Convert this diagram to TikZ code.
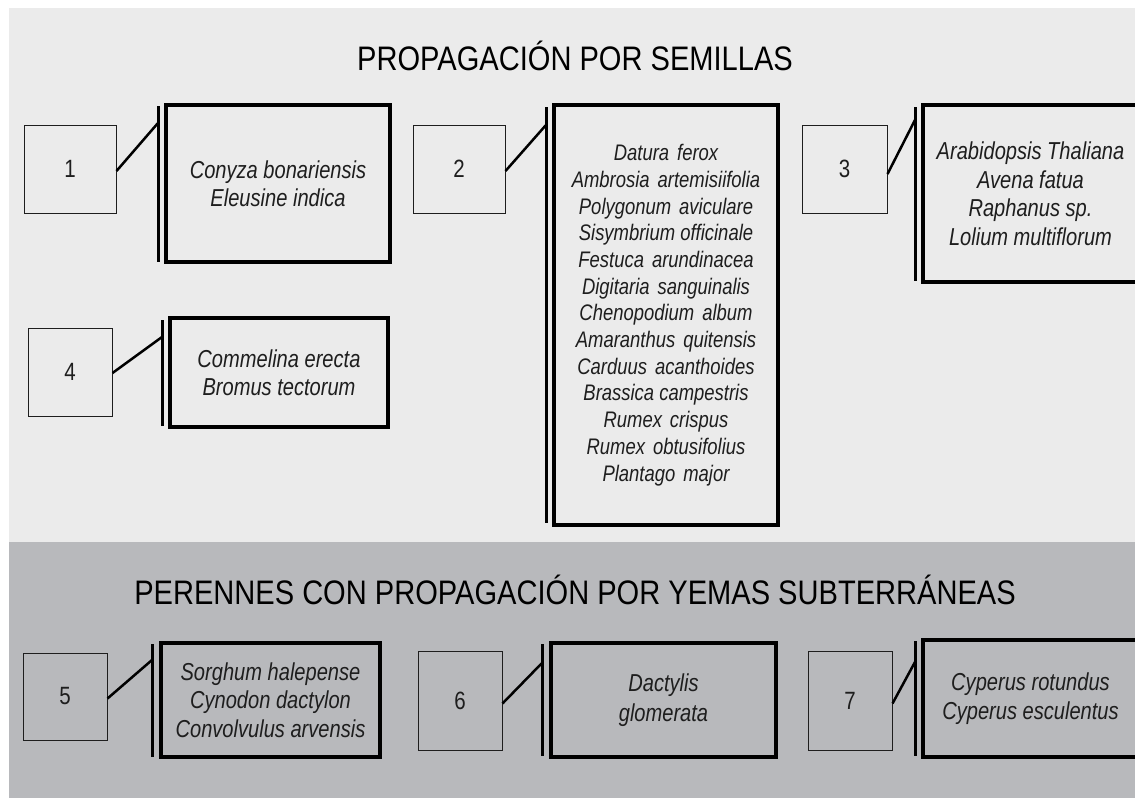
\documentclass[tikz,border=0pt]{standalone}
\usepackage{fontspec}
\setmainfont{Liberation Sans}[FakeStretch=0.855]
\newfontfamily\itemfont{Liberation Sans}[FakeStretch=0.82]
\definecolor{topbg}{RGB}{235,235,235}
\definecolor{botbg}{RGB}{184,185,188}
\definecolor{ink}{RGB}{30,30,30}
\newcommand\wsp{\hspace{8pt}}
\tikzset{
  numbox/.style={draw=ink, line width=1pt, inner sep=0pt, font=\itemfont\fontsize{25}{28}\selectfont, text=ink},
  listbox/.style={draw=black, line width=3.5pt, inner sep=0pt, align=center, font=\itemfont\fontsize{24.5}{28.5}\selectfont\itshape, text=ink},
  barline/.style={line width=3pt, draw=black},
  link/.style={line width=2.5pt, draw=black},
  titletext/.style={font=\fontsize{34}{36}\selectfont, text=black, inner sep=0pt}
}
\begin{document}
\begin{tikzpicture}[x=1pt,y=-1pt]
\useasboundingbox (0,0) rectangle (1135,798);
\fill[topbg] (9,8) rectangle (1135,542);
\fill[botbg] (9,542) rectangle (1135,798);

\node[titletext] (t1) at (575,56) {PROPAGACIÓN POR SEMILLAS};
\node[titletext] (t2) at (575,590) {PERENNES CON PROPAGACIÓN POR YEMAS SUBTERRÁNEAS};

% 1
\node[numbox, minimum width=92pt, minimum height=88pt] (n1) at (70,169) {1};
\node[listbox, minimum width=224pt, minimum height=157pt] (b1) at (278,183.5) {Conyza bonariensis\\Eleusine indica};
\coordinate (p1) at (158,106); \coordinate (q1) at (158,262); \coordinate (c1) at (158,123);
\draw[barline] (p1) -- (q1);
\draw[link] ([yshift=-2pt]n1.east) -- (c1);

% 2
\node[numbox, minimum width=92pt, minimum height=88pt] (n2) at (459,169) {2};
\node[listbox, minimum width=224pt, minimum height=420pt, font=\itemfont\fontsize{22.5}{26.7}\selectfont\itshape] (b2) at (666,315) {Datura\wsp ferox\\Ambrosia\wsp artemisiifolia\\Polygonum\wsp aviculare\\Sisymbrium officinale\\Festuca\wsp arundinacea\\Digitaria\wsp sanguinalis\\Chenopodium\wsp album\\Amaranthus\wsp quitensis\\Carduus\wsp acanthoides\\Brassica campestris\\Rumex\wsp crispus\\Rumex\wsp obtusifolius\\Plantago\wsp major};
\coordinate (p2) at (546,107); \coordinate (q2) at (546,523); \coordinate (c2) at (546,125);
\draw[barline] (p2) -- (q2);
\draw[link] ([yshift=-2pt]n2.east) -- (c2);

% 3
\node[numbox, minimum width=85pt, minimum height=88pt] (n3) at (844.5,169) {3};
\node[listbox, minimum width=215pt, minimum height=177pt] (b3) at (1030.5,193.5) {Arabidopsis Thaliana\\Avena fatua\\Raphanus sp.\\Lolium multiflorum};
\coordinate (p3) at (915,107); \coordinate (q3) at (915,281); \coordinate (c3) at (915,120);
\draw[barline] (p3) -- (q3);
\draw[link] ([yshift=-5pt]n3.east) -- (c3);

% 4
\node[numbox, minimum width=84pt, minimum height=88pt] (n4) at (70,372) {4};
\node[listbox, minimum width=218pt, minimum height=109pt] (b4) at (279,372.5) {Commelina erecta\\Bromus tectorum};
\coordinate (p4) at (162,320); \coordinate (q4) at (162,426); \coordinate (c4) at (162,337);
\draw[barline] (p4) -- (q4);
\draw[link] ([yshift=-1pt]n4.east) -- (c4);

% 5
\node[numbox, minimum width=84pt, minimum height=87pt] (n5) at (65,696.5) {5};
\node[listbox, minimum width=219pt, minimum height=114pt] (b5) at (270.5,700) {Sorghum halepense\\Cynodon dactylon\\Convolvulus arvensis};
\coordinate (p5) at (152,644); \coordinate (q5) at (152,757); \coordinate (c5) at (152,660);
\draw[barline] (p5) -- (q5);
\draw[link] ([yshift=-2pt]n5.east) -- (c5);

% 6
\node[numbox, minimum width=84pt, minimum height=99pt] (n6) at (460,700.5) {6};
\node[listbox, minimum width=225pt, minimum height=114pt, font=\itemfont\fontsize{24.5}{30}\selectfont\itshape] (b6) at (663.5,700) {Dactylis\\glomerata};
\coordinate (p6) at (542,644); \coordinate (q6) at (542,756); \coordinate (c6) at (542,663);
\draw[barline] (p6) -- (q6);
\draw[link] ([yshift=-3pt]n6.east) -- (c6);

% 7
\node[numbox, minimum width=84pt, minimum height=99pt] (n7) at (850,700.5) {7};
\node[listbox, minimum width=215pt, minimum height=117pt] (b7) at (1030.5,698.5) {Cyperus rotundus\\Cyperus esculentus};
\coordinate (p7) at (915,641); \coordinate (q7) at (915,756); \coordinate (c7) at (915,662);
\draw[barline] (p7) -- (q7);
\draw[link] ([yshift=-3pt]n7.east) -- (c7);
\end{tikzpicture}
\end{document}
